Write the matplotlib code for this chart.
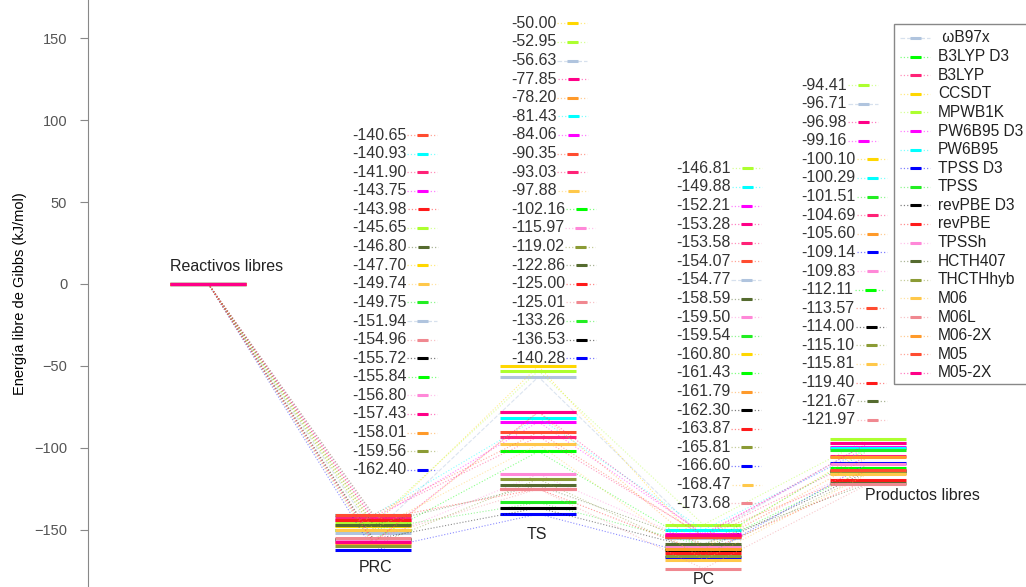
import matplotlib
matplotlib.use("Agg")
import matplotlib.pyplot as plt
from matplotlib.colors import to_rgba
from matplotlib.lines import Line2D
from matplotlib.patches import Rectangle
from matplotlib.transforms import IdentityTransform

plt.rcParams["font.family"] = ["Liberation Sans", "DejaVu Sans"]

stages = ["Reactivos libres", "PRC", "TS", "PC", "Productos libres"]

methods = ["ωB97x", "B3LYP D3", "B3LYP", "CCSDT", "MPWB1K", "PW6B95 D3",
           "PW6B95", "TPSS D3", "TPSS", "revPBE D3", "revPBE", "TPSSh",
           "HCTH407", "THCTHhyb", "M06", "M06L", "M06-2X", "M05", "M05-2X"]
colors = ["#b0c4de", "#00ff00", "#ff2277", "#ffd700", "#adff2f", "#ff00ff",
          "#00ffff", "#0000ff", "#22ee22", "#000000", "#ff1a1a", "#ff88d8",
          "#556b2f", "#8b9b35", "#ffc84a", "#f08890", "#ff9a2a", "#ff4c30",
          "#ff0088"]
styles = ["--"] + [":"] * 18

# Gibbs free energies (kJ/mol) relative to free reactants
prc = [-151.94, -155.84, -141.90, -147.70, -145.65, -143.75, -140.93, -162.40,
       -149.75, -155.72, -143.98, -156.80, -146.80, -159.56, -149.74, -154.96,
       -158.01, -140.65, -157.43]
ts = [-56.63, -102.16, -93.03, -50.00, -52.95, -84.06, -81.43, -140.28,
      -133.26, -136.53, -125.00, -115.97, -122.86, -119.02, -97.88, -125.01,
      -78.20, -90.35, -77.85]
pc = [-154.77, -161.43, -153.58, -160.80, -146.81, -152.21, -149.88, -166.60,
      -159.54, -162.30, -163.87, -159.50, -158.59, -165.81, -168.47, -173.68,
      -161.79, -154.07, -153.28]
products = [-96.71, -112.11, -104.69, -100.10, -94.41, -99.16, -100.29,
            -109.14, -101.51, -114.00, -119.40, -109.83, -121.67, -115.10,
            -115.81, -121.97, -105.60, -113.57, -96.98]

W, H = 1026, 587
fig = plt.figure(figsize=(W / 100, H / 100), dpi=100)
ax = fig.add_axes([88 / W, 0, 1 - 88 / W, 1])
ax.set_xlim(-0.73, 4.955)
ax.set_ylim(-184.8, 173.2)

for i, name in enumerate(methods):
    energies = [0, prc[i], ts[i], pc[i], products[i]]
    ax.plot(range(len(stages)), energies, ls=styles[i], lw=0.8,
            color=to_rgba(colors[i], 0.45), marker="_", ms=55.4, mew=2.2,
            mec=colors[i], label=name)

for s in ["top", "right", "bottom"]:
    ax.spines[s].set_visible(False)
ax.spines["left"].set_color("#888888")
ax.set_xticks([])
ax.set_yticks([-150, -100, -50, 0, 50, 100, 150])
ax.tick_params(axis="y", colors="#888888", labelcolor="#555555",
               labelsize=10.5, length=6, pad=9)
ax.set_ylabel("Energía libre de Gibbs (kJ/mol)", fontsize=10.5, labelpad=5)

# stage names
lab = dict(fontsize=11.5, color="#222222", va="center")
ax.text(0.11, 10.4, stages[0], ha="center", **lab)
ax.text(1.01, -173.2, stages[1], ha="center", **lab)
ax.text(1.99, -153.0, stages[2], ha="center", **lab)
ax.text(3.0, -180.5, stages[3], ha="center", **lab)
ax.text(3.98, -129.3, stages[4], ha="left", **lab)

renderer = fig.canvas.get_renderer()
STEP = 18.6


def key(x0, y, color, ls):
    # dotted stub with a short thick bar in the middle, like a legend handle
    fig.add_artist(Line2D([x0, x0 + 30], [H - y, H - y], transform=IdentityTransform(),
                          ls=ls, lw=0.9, color=to_rgba(color, 0.5)))
    fig.add_artist(Line2D([x0 + 10, x0 + 21], [H - y, H - y], transform=IdentityTransform(),
                          lw=2.2, color=color, solid_capstyle="butt"))


def value_column(x_left, y_top, values):
    order = sorted(range(len(values)), key=lambda k: -values[k])
    for row, k in enumerate(order):
        y = y_top + row * STEP
        t = fig.text(x_left, H - y, f"{values[k]:.2f}", transform=IdentityTransform(),
                     ha="left", va="center", fontsize=11.5, color="#333333")
        x_end = t.get_window_extent(renderer=renderer).x1
        key(x_end + 1, y, colors[k], styles[k])


value_column(352, 135, prc)
value_column(511, 23.3, ts)
value_column(676, 168.3, pc)
value_column(801.7, 85, products)

# method key box
fig.add_artist(Rectangle((894, H - 384), 200, 384 - 24, transform=IdentityTransform(),
                         fill=False, ec="#888888", lw=1))
for i, name in enumerate(methods):
    y = 38 + i * STEP
    key(900, y, colors[i], styles[i])
    fig.text(938, H - y, (" " if i == 0 else "") + name, transform=IdentityTransform(),
             ha="left", va="center", fontsize=11.2, color="#222222")

fig.savefig("out.png", dpi=100)
